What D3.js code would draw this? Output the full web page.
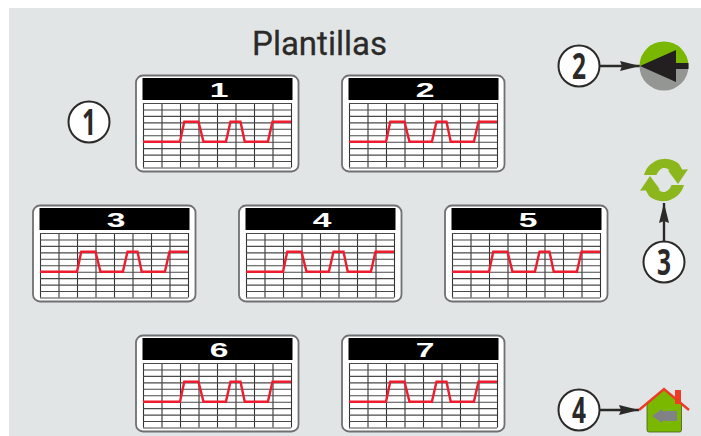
<!DOCTYPE html>
<html>
<head>
<meta charset="utf-8">
<script src="https://cdn.jsdelivr.net/npm/d3@7"></script>
<style>
  html, body { margin: 0; padding: 0; background: #fff; }
  svg { display: block; }
</style>
</head>
<body>
<svg id="chart"></svg>
<script>
const width = 701;
const height = 436;

// every template shows the same red profile
const templates = ["1", "2", "3", "4", "5", "6", "7"];
const profileX = [0, 2, 2.23, 3, 3.27, 4.48, 4.73, 5.27, 5.5, 6.75, 7, 8];
const profileY = [4, 4, 7.1, 7.1, 4, 4, 7.1, 7.1, 4, 4, 7.1, 7.1];
const titleText = "Plantillas";
const calloutLabels = ["1", "2", "3", "4"];

// card layout
const cardX = [135, 341, 32, 238, 444, 135, 341];
const cardY = [74.5, 74.5, 204.5, 204.5, 204.5, 334.5, 334.5];
const card_w = 164.5;
const card_h = 98;
const grid_w = 148;
const grid_h = 64.5;

const svg = d3.select("#chart").attr("width", width).attr("height", height);

svg.append("rect")
  .attr("x", 9).attr("y", 8)
  .attr("width", width - 9).attr("height", height - 8)
  .attr("fill", "#e1e5e6");

svg.append("text")
  .attr("x", 319.5).attr("y", 55)
  .attr("text-anchor", "middle")
  .style("font-family", "Roboto")
  .style("font-size", "33px")
  .attr("stroke", "#2b2a29")
  .attr("stroke-width", 0.3)
  .attr("fill", "#2b2a29")
  .text(titleText);

const xScale = d3.scaleLinear().domain([0, 8]).range([0, grid_w]);
const yScale = d3.scaleLinear().domain([0, 10]).range([grid_h, 0]);
const profileLine = d3.line()
  .x((d, i) => xScale(profileX[i]))
  .y(d => yScale(d));

const cards = svg.selectAll(".card")
  .data(templates)
  .enter().append("g")
    .attr("class", "card")
    .attr("transform", (d, i) => "translate(" + cardX[i] + "," + cardY[i] + ")");

cards.append("rect")
  .attr("x", 1).attr("y", 1)
  .attr("width", card_w - 2).attr("height", card_h - 2)
  .attr("rx", 7)
  .attr("fill", "#fff")
  .attr("stroke", "#6f7072")
  .attr("stroke-width", 1.8);

cards.append("rect")
  .attr("x", 7.5).attr("y", 3.5)
  .attr("width", 150).attr("height", 22)
  .attr("fill", "#000");

cards.append("text")
  .attr("transform", "translate(84,22) scale(1.6,1)")
  .attr("text-anchor", "middle")
  .style("font-family", "Liberation Sans")
  .style("font-weight", "bold")
  .style("font-size", "21px")
  .attr("fill", "#fff")
  .text(d => d);

const plots = cards.append("g").attr("transform", "translate(8,28.5)");

plots.append("g")
  .call(d3.axisTop(xScale).ticks(8).tickSize(-grid_h).tickFormat(""))
  .call(g => g.select(".domain").remove())
  .selectAll("line").attr("stroke", "#333").attr("stroke-width", 1.1);

plots.append("g")
  .call(d3.axisLeft(yScale).ticks(10).tickSize(-grid_w).tickFormat(""))
  .call(g => g.select(".domain").remove())
  .selectAll("line").attr("stroke", "#4a4a4a").attr("stroke-width", 1.1);

plots.append("path")
  .attr("d", profileLine(profileY))
  .attr("fill", "none")
  .attr("stroke", "#ed1c2e")
  .attr("stroke-width", 2.4);

// callouts
const defs = svg.append("defs");
defs.append("marker")
  .attr("id", "head")
  .attr("viewBox", "0 0 20 10")
  .attr("refX", 20).attr("refY", 5)
  .attr("markerUnits", "userSpaceOnUse")
  .attr("markerWidth", 20).attr("markerHeight", 10)
  .attr("orient", "auto")
  .append("path").attr("d", "M0,0 L20,5 L0,10 L2,5 Z").attr("fill", "#2b2a29");

const calloutX = [89, 579, 664, 579];
const calloutY = [122, 66, 262, 410];

[[600, 66, 640, 66], [664, 241, 664, 203], [600, 410, 639, 410]].forEach(p => {
  svg.append("line")
    .attr("x1", p[0]).attr("y1", p[1]).attr("x2", p[2]).attr("y2", p[3])
    .attr("stroke", "#2b2a29").attr("stroke-width", 2.4)
    .attr("marker-end", "url(#head)");
});

const callouts = svg.selectAll(".callout")
  .data(calloutLabels)
  .enter().append("g")
    .attr("class", "callout")
    .attr("transform", (d, i) => "translate(" + calloutX[i] + "," + calloutY[i] + ")");

callouts.append("circle")
  .attr("r", 20.5)
  .attr("fill", "#fff")
  .attr("stroke", "#2b2a29")
  .attr("stroke-width", 2);

callouts.append("text")
  .attr("transform", "translate(0,13) scale(0.68,1)")
  .attr("text-anchor", "middle")
  .style("font-family", "Open Sans")
  .style("font-weight", "bold")
  .style("font-size", "36px")
  .attr("fill", "#2b2a29")
  .text(d => d);

// icon 2: back disc
const disc = svg.append("g").attr("transform", "translate(664,66)");
disc.append("path")
  .attr("d", d3.arc()({ innerRadius: 0, outerRadius: 24.5, startAngle: -Math.PI / 2, endAngle: Math.PI / 2 }))
  .attr("fill", "#7ab800");
disc.append("path")
  .attr("d", d3.arc()({ innerRadius: 0, outerRadius: 24.5, startAngle: Math.PI / 2, endAngle: 3 * Math.PI / 2 }))
  .attr("fill", "#949694");
disc.append("path").attr("d", "M-24,0 L12,-16 L12,-3 L24.5,-3 L24.5,3 L12,3 L12,16 Z").attr("fill", "#231f20");

// icon 3: refresh arrows, crescents around a tall narrow hole
const refresh = svg.append("g").attr("transform", "translate(664,180)");
[0, 180].forEach(r => {
  const g = refresh.append("g").attr("transform", "rotate(" + r + ")");
  g.append("path")
    .attr("d", "M-20,-5 A21.7,21.7 0 0 1 15,-16 L19,-9 L7,-8 A9,13 0 0 0 -7.5,-5 Z")
    .attr("fill", "#8cb71c");
  g.append("path").attr("d", "M4,-9.5 L24,-10.7 L14,4 Z").attr("fill", "#8cb71c");
});

// icon 4: home
const house = svg.append("g");
house.append("path")
  .attr("d", "M647,404 L664,389 L681.5,404 L681.5,430 Q681.5,432 679.5,432 L649,432 Q647,432 647,430 Z")
  .attr("fill", "#7ab800").attr("stroke", "#4a5a20").attr("stroke-width", 0.8);
house.append("rect").attr("x", 675).attr("y", 390).attr("width", 6).attr("height", 14).attr("fill", "#ee3b24");
house.append("path")
  .attr("d", "M639,410 L664,389 L689,410")
  .attr("fill", "none").attr("stroke", "#ee3b24").attr("stroke-width", 2.4);
house.append("path")
  .attr("d", "M652,416 L662,409 L662,411 L677,411 L677,421 L662,421 L662,423 Z")
  .attr("fill", "#808285");
</script>
</body>
</html>
